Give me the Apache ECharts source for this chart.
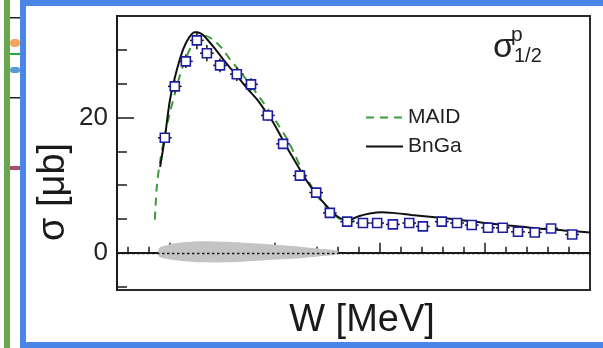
<!DOCTYPE html>
<html>
<head>
<meta charset="utf-8">
<script src="https://cdn.jsdelivr.net/npm/echarts@6/dist/echarts.min.js"></script>
<style>
html, body { margin: 0; padding: 0; background: #fff; }
#main { width: 603px; height: 348px; }
</style>
</head>
<body>
<div id="main"></div>
<script>
// data points (W in MeV, sigma in microbarn)
const pointW = [1191, 1210, 1231, 1252, 1271, 1296, 1328, 1355, 1387, 1416, 1448, 1479, 1505, 1538,
	1568, 1595, 1625, 1656, 1682, 1718, 1747, 1775, 1806, 1834, 1863, 1895, 1926, 1966];
const pointSigma = [17.0, 24.6, 28.3, 31.4, 29.5, 27.7, 26.4, 24.9, 20.3, 16.1, 11.4, 8.9, 5.9, 4.6,
	4.4, 4.4, 4.2, 4.4, 3.9, 4.6, 4.4, 4.1, 3.7, 3.7, 3.1, 3.0, 3.6, 2.7];
const pointErr = [0.6, 0.9, 1.0, 1.3, 1.2, 1.0, 1.0, 0.9, 0.8, 0.6, 0.5, 0.4, 0.3, 0.3,
	0.2, 0.2, 0.2, 0.2, 0.2, 0.2, 0.2, 0.2, 0.2, 0.2, 0.2, 0.2, 0.2, 0.2];
const binHalf = 13;

// MAID curve
const maidW = [1172, 1176, 1182, 1190, 1200, 1210, 1220, 1230, 1242, 1254, 1266, 1283, 1300, 1315,
	1334, 1353, 1372, 1391, 1407, 1423, 1436, 1448, 1464, 1480, 1500, 1520, 1540, 1560];
const maidSigma = [4.9, 10.0, 13.5, 17.0, 20.5, 23.5, 26.3, 28.5, 30.6, 31.8, 32.1, 31.5, 30.2, 28.6,
	26.8, 24.9, 22.9, 20.8, 18.9, 16.9, 14.9, 12.9, 10.6, 8.6, 6.6, 5.2, 4.6, 4.8];

// BnGa curve
const bngaW = [1182, 1191, 1201, 1214, 1226, 1237, 1248, 1260, 1271, 1286, 1302, 1318, 1334, 1350,
	1366, 1381, 1397, 1416, 1432, 1448, 1464, 1479, 1499, 1519, 1538, 1560, 1581, 1603, 1625,
	1660, 1700, 1750, 1800, 1850, 1900, 1950, 2000];
const bngaSigma = [12.7, 17.0, 22.7, 27.1, 30.1, 31.8, 32.6, 32.4, 31.6, 30.2, 28.6, 27.1, 25.6, 24.1,
	22.7, 21.1, 19.3, 16.6, 14.4, 12.3, 10.3, 8.7, 6.9, 5.4, 4.8, 5.4, 5.8, 6.0, 5.9,
	5.6, 5.3, 4.9, 4.4, 4.0, 3.6, 3.3, 3.0];

// systematic band around zero
const bandW = [1180, 1210, 1258, 1315, 1382, 1448, 1486, 1520];
const bandUp = [0.7, 1.4, 1.7, 1.6, 1.3, 0.9, 0.6, 0.3];
const bandDown = [0.6, 1.1, 1.4, 1.4, 1.1, 0.8, 0.5, 0.2];

// ticks
const xMinorTicks = [1120, 1160, 1240, 1280, 1320, 1360, 1440, 1480, 1520, 1560, 1640, 1680,
	1720, 1760, 1840, 1880, 1920, 1960];
const xMajorTicks = [1200, 1400, 1600, 1800];
const yMinorTicks = [-5, 5, 10, 15, 25, 30];
const yMajorTicks = [0, 20];

const FONT = '"Liberation Sans", Arial, sans-serif';
const INK = "#1a1a1a";

var chart = echarts.init(document.getElementById("main"));

var option = {
	animation: false,
	backgroundColor: "#fff",
	grid: {
		left: 117,
		top: 16,
		width: 473,
		height: 274,
		show: true,
		borderColor: "#2a2a2a",
		borderWidth: 2,
	},
	legend: {
		data: ["MAID", "BnGa"],
		orient: "vertical",
		left: 360,
		top: 102,
		itemWidth: 37,
		itemHeight: 20,
		itemGap: 8,
		itemStyle: { opacity: 0 },
		textStyle: { fontFamily: FONT, fontSize: 21, color: "#222" },
	},
	xAxis: [
		{
			type: "value",
			min: 1100,
			max: 2000,
			axisLine: { show: true, lineStyle: { color: INK, width: 2 } },
			axisTick: {
				show: true,
				inside: true,
				length: 6,
				customValues: xMinorTicks,
				lineStyle: { color: INK, width: 1.5 },
			},
			axisLabel: { show: false },
			splitLine: { show: false },
		},
		{
			type: "value",
			min: 1100,
			max: 2000,
			position: "bottom",
			axisLine: { show: false },
			axisTick: {
				show: true,
				inside: true,
				length: 10,
				customValues: xMajorTicks,
				lineStyle: { color: INK, width: 1.5 },
			},
			axisLabel: { show: false },
			splitLine: { show: false },
		},
	],
	yAxis: [
		{
			type: "value",
			min: -5.5,
			max: 35,
			axisLine: { show: true, lineStyle: { color: INK, width: 2 } },
			axisTick: {
				show: true,
				inside: true,
				length: 10,
				customValues: yMinorTicks,
				lineStyle: { color: INK, width: 1.5 },
			},
			axisLabel: {
				show: true,
				customValues: yMajorTicks,
				margin: 9,
				fontFamily: FONT,
				fontSize: 26,
				color: "#222",
			},
			splitLine: { show: false },
		},
		{
			type: "value",
			min: -5.5,
			max: 35,
			position: "left",
			offset: 0,
			axisLine: { show: false },
			axisTick: {
				show: true,
				inside: true,
				length: 17,
				customValues: yMajorTicks,
				lineStyle: { color: INK, width: 1.5 },
			},
			axisLabel: { show: false },
			splitLine: { show: false },
		},
	],
	series: [
		{
			name: "band",
			type: "custom",
			data: bandW.map((w, i) => [w, bandUp[i], bandDown[i]]),
			silent: true,
			z: 1,
			renderItem: function (params, api) {
				if (params.dataIndex !== 0) return null;
				const upper = bandW.map((w, i) => api.coord([w, bandUp[i]]));
				const lower = bandW.map((w, i) => api.coord([w, -bandDown[i]])).reverse();
				return {
					type: "polygon",
					shape: { points: upper.concat(lower), smooth: 0.2 },
					style: { fill: "#c4c4c4" },
				};
			},
		},
		{
			name: "zero",
			type: "line",
			data: [],
			z: 3,
			markLine: {
				silent: true,
				symbol: "none",
				label: { show: false },
				lineStyle: { color: INK, type: [2.5, 2.5], width: 1.3 },
				data: [{ yAxis: 0 }],
			},
		},
		{
			name: "MAID",
			type: "line",
			data: maidW.map((w, i) => [w, maidSigma[i]]),
			showSymbol: false,
			symbol: "none",
			smooth: 0.3,
			color: "#3d9a3d",
			lineStyle: { color: "#3d9a3d", width: 2, type: [8, 6] },
			z: 4,
		},
		{
			name: "BnGa",
			type: "line",
			data: bngaW.map((w, i) => [w, bngaSigma[i]]),
			showSymbol: false,
			symbol: "none",
			smooth: 0.3,
			color: "#111",
			lineStyle: { color: "#111", width: 2 },
			z: 4,
		},
		{
			name: "errors",
			type: "custom",
			data: pointW.map((w, i) => [w, pointSigma[i], pointErr[i]]),
			z: 5,
			renderItem: function (params, api) {
				const x = api.value(0);
				const y = api.value(1);
				const e = api.value(2);
				const top = api.coord([x, y + e]);
				const bot = api.coord([x, y - e]);
				const l = api.coord([x - binHalf, y]);
				const r = api.coord([x + binHalf, y]);
				return {
					type: "group",
					children: [
						{
							type: "line",
							shape: { x1: top[0], y1: top[1], x2: bot[0], y2: bot[1] },
							style: { stroke: "#111", lineWidth: 1.5 },
						},
						{
							type: "line",
							shape: { x1: l[0], y1: l[1], x2: r[0], y2: r[1] },
							style: { stroke: "#111", lineWidth: 1.5 },
						},
					],
				};
			},
		},
		{
			name: "data",
			type: "scatter",
			data: pointW.map((w, i) => [w, pointSigma[i]]),
			symbol: "rect",
			symbolSize: 9,
			itemStyle: { color: "#fff", borderColor: "#1c1ca2", borderWidth: 1.6, opacity: 1 },
			z: 6,
		},
	],
	graphic: [
		// slide decorations around the figure
		{ type: "rect", shape: { x: 4, y: 0, width: 6, height: 348 }, style: { fill: "#6aa84f" } },
		{ type: "rect", shape: { x: 10, y: 17, width: 10, height: 1.5 }, style: { fill: "#222" } },
		{ type: "rect", shape: { x: 10, y: 39, width: 10, height: 8, r: 4 }, style: { fill: "#f4a460" } },
		{ type: "rect", shape: { x: 10, y: 53, width: 10, height: 2 }, style: { fill: "#22aa33" } },
		{ type: "rect", shape: { x: 10, y: 67, width: 10, height: 6, r: 3 }, style: { fill: "#5b9bd5" } },
		{ type: "rect", shape: { x: 10, y: 97, width: 10, height: 1.5 }, style: { fill: "#222" } },
		{ type: "rect", shape: { x: 10, y: 166, width: 10, height: 4 }, style: { fill: "#a64d79" } },
		{ type: "rect", shape: { x: 20, y: 0, width: 6, height: 348 }, style: { fill: "#4a86e8" }, z: 100 },
		{ type: "rect", shape: { x: 20, y: 0, width: 583, height: 6 }, style: { fill: "#4a86e8" }, z: 100 },
		{ type: "rect", shape: { x: 20, y: 342, width: 583, height: 6 }, style: { fill: "#4a86e8" }, z: 100 },
		// axis titles
		{
			type: "text",
			x: 54,
			y: 192,
			rotation: Math.PI / 2,
			style: {
				text: "σ [μb]",
				font: '38px "Liberation Sans", Arial, sans-serif',
				fill: INK,
				align: "center",
				verticalAlign: "middle",
			},
		},
		{
			type: "text",
			x: 362,
			y: 321,
			style: {
				text: "W [MeV]",
				font: '38px "Liberation Sans", Arial, sans-serif',
				fill: INK,
				align: "center",
				verticalAlign: "middle",
			},
		},
		// sigma^p_{1/2} label
		{
			type: "text",
			x: 493,
			y: 48,
			style: { text: "σ", font: '34px "Liberation Sans", Arial, sans-serif', fill: "#222", align: "left", verticalAlign: "middle" },
		},
		{
			type: "text",
			x: 511,
			y: 35,
			style: { text: "p", font: '21px "Liberation Sans", Arial, sans-serif', fill: "#222", align: "left", verticalAlign: "middle" },
		},
		{
			type: "text",
			x: 514,
			y: 56,
			style: { text: "1/2", font: '20px "Liberation Sans", Arial, sans-serif', fill: "#222", align: "left", verticalAlign: "middle" },
		},
	],
};

chart.setOption(option);
</script>
</body>
</html>
